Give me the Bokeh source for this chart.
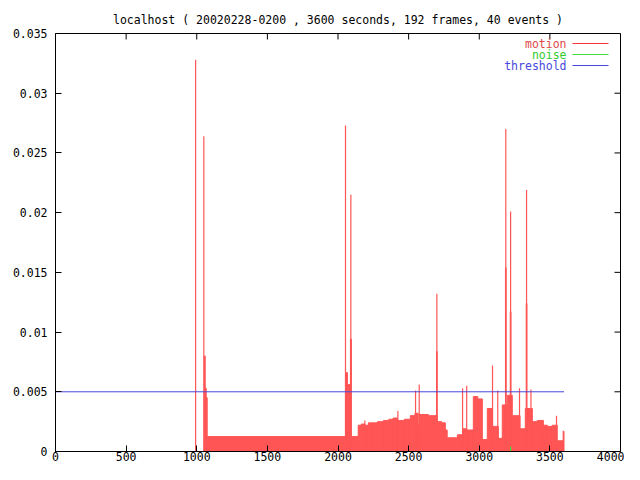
from bokeh.plotting import figure
from bokeh.models import Range1d, FixedTicker, LinearAxis, Label, ColumnDataSource
from bokeh.embed import file_html
from bokeh.resources import INLINE

# ---------------- data ----------------
title_text = "localhost ( 20020228-0200 , 3600 seconds, 192 frames, 40 events )"
end_time = 3600

# motion: piecewise levels (segment start time, level)
level_t = [0, 1053, 1060, 1067, 1074, 2053, 2067, 2088, 2095, 2143, 2165, 2190, 2215,
           2250, 2280, 2322, 2360, 2390, 2421, 2470, 2512, 2545, 2568, 2576, 2640,
           2702, 2735, 2760, 2773, 2845, 2882, 2911, 2958, 2990, 3022, 3057, 3094,
           3135, 3163, 3198, 3234, 3289, 3326, 3376, 3411, 3454, 3482, 3517, 3552, 3594]
level_v = [0.0, 0.0080, 0.0053, 0.0045, 0.00125, 0.0066, 0.0056, 0.0094, 0.00126, 0.0022,
           0.0023, 0.0022, 0.0024, 0.0024, 0.0025, 0.0026, 0.0027, 0.0028, 0.0026, 0.0027,
           0.0030, 0.0032, 0.0022, 0.0031, 0.0030, 0.0025, 0.0024, 0.0018, 0.00115,
           0.0014, 0.0019, 0.0018, 0.0046, 0.0044, 0.0010, 0.0036, 0.0021, 0.0011,
           0.0039, 0.0047, 0.0030, 0.0019, 0.0036, 0.0025, 0.0026, 0.0022, 0.0021,
           0.0022, 0.0009, 0.0017]

# motion: single-frame peaks
spike_t = [992, 1050, 2053, 2091, 2190, 2424, 2549, 2575, 2700, 2882, 2911, 3094,
           3131, 3188, 3222, 3285, 3335, 3366, 3547]
spike_v = [0.0328, 0.0264, 0.0273, 0.0215, 0.0026, 0.0034, 0.0051, 0.0056, 0.0132,
           0.0053, 0.0055, 0.0072, 0.0051, 0.0270, 0.0201, 0.0053, 0.0219, 0.0052, 0.0030]

# motion: wider lower part of some peaks
sub_t = [2700, 3188, 3222, 3335]
sub_v = [0.0084, 0.0154, 0.0117, 0.0124]

# noise
noise_t = [3222]
noise_v = [0.0004]

# threshold
thresh_t = [0, 3600]
thresh_v = [0.005, 0.005]

x_ticks = [0, 500, 1000, 1500, 2000, 2500, 3000, 3500, 4000]
x_tick_labels = ["0", "500", "1000", "1500", "2000", "2500", "3000", "3500", "4000"]
y_ticks = [0, 0.005, 0.01, 0.015, 0.02, 0.025, 0.03, 0.035]
y_tick_labels = ["0", "0.005", "0.01", "0.015", "0.02", "0.025", "0.03", "0.035"]

legend_names = ["motion", "noise", "threshold"]

# ---------------- style ----------------
RED = "#ff5555"
RED_TEXT = "#e04848"
GREEN = "#44dd44"
BLUE = "#4848dd"
FONT = "DejaVu Sans Mono"
FS = "11.5px"

W, H = 624, 464
BL, BR, BT, BB = 55, 4, 33, 13
X0, X1, Y0, Y1 = 0, 4000, 0, 0.035
frame_w = W - BL - BR
frame_h = H - BT - BB
TICK = 6

p = figure(width=W, height=H, output_backend="svg", toolbar_location=None,
           x_range=Range1d(X0, X1), y_range=Range1d(Y0, Y1),
           min_border_left=BL, min_border_right=BR, min_border_top=BT,
           min_border_bottom=BB, x_axis_location=None, y_axis_location=None)
p.grid.visible = False
p.outline_line_color = "black"
p.outline_line_width = 1
p.background_fill_color = "white"
p.border_fill_color = "white"

p.title.text = title_text
p.title.align = "center"
p.title.text_font = FONT
p.title.text_font_size = FS
p.title.text_font_style = "normal"
p.title.text_color = "black"
p.title.standoff = 14
p.title.offset = 0


def make_axis(ticks, labels, standoff):
    ax = LinearAxis(ticker=FixedTicker(ticks=ticks))
    ax.major_label_overrides = {t: l for t, l in zip(ticks, labels)}
    ax.major_tick_in = TICK
    ax.major_tick_out = 0
    ax.minor_tick_line_color = None
    ax.axis_line_color = "black"
    ax.major_tick_line_color = "black"
    ax.major_label_text_font = FONT
    ax.major_label_text_font_size = FS
    ax.major_label_text_color = "black"
    ax.major_label_standoff = standoff
    return ax


p.add_layout(make_axis(x_ticks, x_tick_labels, 0), "below")
p.add_layout(make_axis(y_ticks, y_tick_labels, 8), "left")

# mirrored inward ticks on the top and right borders
dx_tick = TICK * (X1 - X0) / frame_w
dy_tick = TICK * (Y1 - Y0) / frame_h
p.segment(x0=x_ticks, y0=[Y1] * len(x_ticks), x1=x_ticks,
          y1=[Y1 - dy_tick] * len(x_ticks), line_color="black", line_width=1)
p.segment(x0=[X1] * len(y_ticks), y0=y_ticks, x1=[X1 - dx_tick] * len(y_ticks),
          y1=y_ticks, line_color="black", line_width=1)

# motion levels
level_right = level_t[1:] + [end_time]
lsrc = ColumnDataSource(dict(left=level_t, right=level_right, top=level_v,
                             bottom=[0] * len(level_t)))
p.quad(left="left", right="right", top="top", bottom="bottom", source=lsrc,
       fill_color=RED, line_color=RED, line_width=1)

# wider lower parts of peaks
p.vbar(x=sub_t, top=sub_v, bottom=0, width=12, fill_color=RED, line_color=None)

# single peaks
p.segment(x0=spike_t, y0=[0] * len(spike_t), x1=spike_t, y1=spike_v,
          line_color=RED, line_width=1.2)

# noise
p.segment(x0=noise_t, y0=[0] * len(noise_t), x1=noise_t, y1=noise_v,
          line_color=GREEN, line_width=1.2)

# threshold
p.line(thresh_t, thresh_v, line_color=BLUE, line_width=1)

# legend (gnuplot style: text, then line sample)
legend_text_colors = [RED_TEXT, "#33cc33", BLUE]
legend_line_colors = ["#ff3333", GREEN, BLUE]
px_x = (X1 - X0) / frame_w
px_y = (Y1 - Y0) / frame_h
text_x = X1 - 54 * px_x
line_x0, line_x1 = X1 - 48 * px_x, X1 - 12 * px_x
for i, name in enumerate(legend_names):
    yy = Y1 - (10 + 11 * i) * px_y
    p.add_layout(Label(x=text_x, y=yy, text=name, text_align="right",
                       text_baseline="middle", text_font=FONT, text_font_size=FS,
                       text_color=legend_text_colors[i]))
    p.segment(x0=[line_x0], y0=[yy], x1=[line_x1], y1=[yy],
              line_color=legend_line_colors[i], line_width=1)

open("out.html", "w").write(file_html(p, INLINE))
